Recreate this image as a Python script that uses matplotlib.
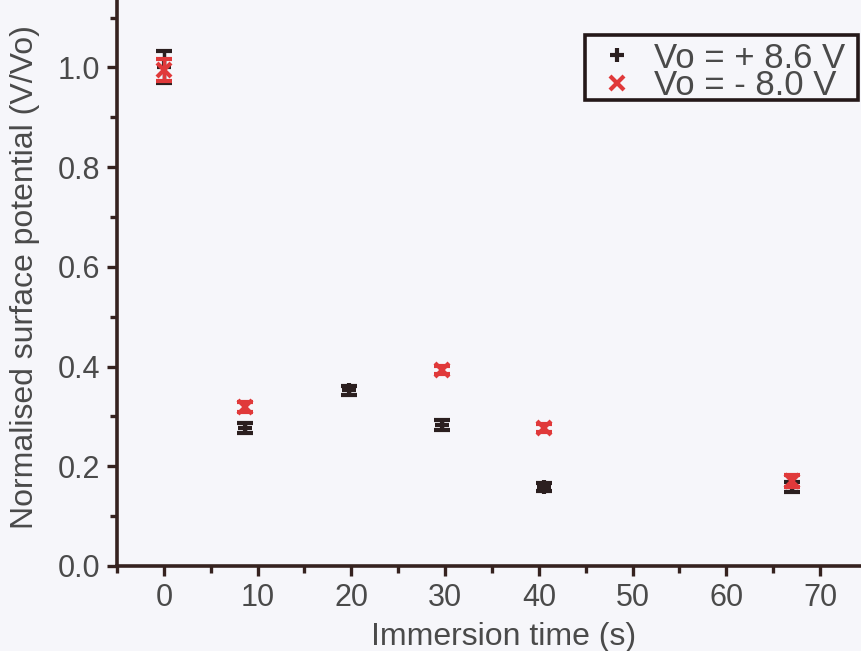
import matplotlib
matplotlib.use("Agg")
import matplotlib.pyplot as plt
from matplotlib.patches import Rectangle
from matplotlib.ticker import MultipleLocator

# immersion time (s) and normalised surface potential
pos_time = [0, 8.7, 19.8, 29.7, 40.6, 67.0]
pos_val = [1.0, 0.277, 0.352, 0.282, 0.158, 0.158]
pos_err = [0.032, 0.010, 0.010, 0.010, 0.008, 0.010]

neg_time = [0, 8.7, 29.7, 40.5, 67.0]
neg_val = [0.995, 0.318, 0.393, 0.277, 0.170]
neg_err = [0.022, 0.010, 0.008, 0.008, 0.012]

x_ticks = [0, 10, 20, 30, 40, 50, 60, 70]
y_ticks = [0.0, 0.2, 0.4, 0.6, 0.8, 1.0]

dark = "#2b1f1f"
red = "#e0393a"
spine_col = "#35221f"
label_col = "#4a4a4a"
bg = "#f6f6fa"

plt.rcParams["font.family"] = ["Liberation Sans", "DejaVu Sans"]

fig = plt.figure(figsize=(8.62, 6.51), dpi=100, facecolor=bg)
ax = fig.add_axes([0.1357, 0.1306, 0.870, 0.873])
ax.set_facecolor(bg)

ax.errorbar(pos_time, pos_val, yerr=pos_err, fmt="+", color=dark,
            markersize=10, markeredgewidth=3, elinewidth=2.5,
            capsize=6, capthick=2.5, zorder=3)
ax.errorbar(neg_time, neg_val, yerr=neg_err, fmt="x", color=red,
            markersize=10, markeredgewidth=3, elinewidth=2.5,
            capsize=6, capthick=2.5, zorder=4)

ax.set_xlim(-5, 75)
ax.set_ylim(0, 1.14)
ax.set_xticks(x_ticks)
ax.set_yticks(y_ticks)
ax.set_yticklabels([f"{v:.1f}" for v in y_ticks])
ax.xaxis.set_minor_locator(MultipleLocator(5))
ax.yaxis.set_minor_locator(MultipleLocator(0.1))

for s in ["top", "right"]:
    ax.spines[s].set_visible(False)
for s in ["left", "bottom"]:
    ax.spines[s].set_linewidth(2.6)
    ax.spines[s].set_color(spine_col)

ax.tick_params(which="major", length=7, width=2.4, color=spine_col,
               labelsize=22, labelcolor=label_col, pad=5)
ax.tick_params(which="minor", length=5, width=2.4, color=spine_col)

ax.set_xlabel("Immersion time (s)", fontsize=23, color=label_col)
ax.set_ylabel("Normalised surface potential (V/Vo)", fontsize=23,
              color=label_col)
ax.xaxis.set_label_coords(0.515, -0.0986)
ax.yaxis.set_label_coords(-0.103, 0.508)

# legend box drawn separately so it can be tighter than the legend padding
box = Rectangle((0.624, 0.820), 0.364, 0.115, transform=ax.transAxes,
                facecolor=bg, edgecolor="#241818", linewidth=2.6,
                clip_on=False, zorder=6)
ax.add_patch(box)

h1 = plt.Line2D([], [], marker="+", color=dark, linestyle="none",
                markersize=10, markeredgewidth=3)
h2 = plt.Line2D([], [], marker="x", color=red, linestyle="none",
                markersize=10, markeredgewidth=3)
leg = ax.legend([h1, h2], ["Vo = + 8.6 V", "Vo = - 8.0 V"],
                loc="upper right", bbox_to_anchor=(0.980, 0.935),
                borderaxespad=0, fontsize=25, frameon=False,
                handlelength=1.2, handletextpad=0.45, borderpad=0.2,
                labelspacing=-0.15)
leg.set_zorder(7)
for t in leg.get_texts():
    t.set_color(label_col)

fig.savefig("out.png", dpi=100, facecolor=fig.get_facecolor())
